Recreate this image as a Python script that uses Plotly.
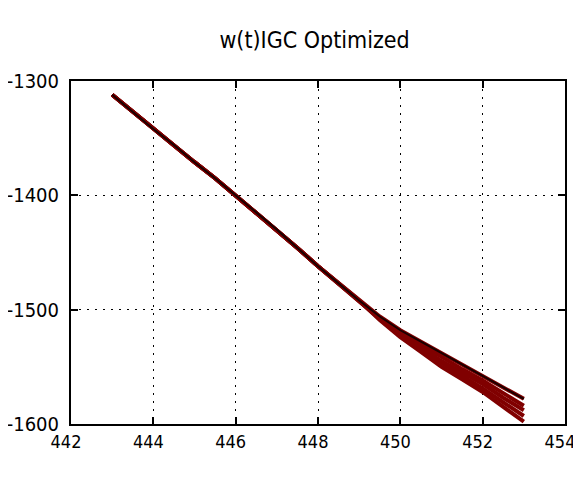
import plotly.graph_objects as go

x_vals = [443, 443.5, 444, 444.5, 445, 445.5, 446, 446.5, 447, 447.5, 448, 448.5, 449,
          449.5, 450, 450.5, 451, 451.5, 452, 452.5, 453]

# shared early part (all runs coincide up to x=449)
head = [-1312, -1327, -1342, -1356, -1371, -1385, -1400, -1415, -1430, -1446, -1462, -1477, -1492]

tail_1 = [-1506, -1518, -1528, -1538, -1548, -1558, -1568, -1578]
tail_2 = [-1507, -1520, -1531, -1542, -1552, -1562, -1573, -1584]
tail_3 = [-1508, -1521, -1533, -1545, -1555, -1565, -1577, -1588]
tail_4 = [-1508, -1523, -1535, -1547, -1558, -1569, -1581, -1593]
tail_5 = [-1509, -1524, -1537, -1550, -1561, -1572, -1585, -1598]

series = [head + tail_1, head + tail_2, head + tail_3, head + tail_4, head + tail_5]

x_ticks = [442, 444, 446, 448, 450, 452, 454]
y_ticks = [-1600, -1500, -1400, -1300]
title_text = "w(t)IGC Optimized"

fig = go.Figure()
for ys in series[::-1]:
    fig.add_trace(go.Scatter(
        x=x_vals, y=ys, mode="lines",
        line=dict(color="#800000", width=4),
        showlegend=False))
fig.add_trace(go.Scatter(
    x=x_vals, y=series[0], mode="lines",
    line=dict(color="#1a0000", width=2), showlegend=False))

font_family = "DejaVu Sans Condensed, Liberation Sans Narrow, Arial Narrow, sans-serif"

axis_common = dict(
    showline=True, linecolor="black", linewidth=2, mirror="allticks",
    ticks="inside", ticklen=7, tickcolor="black", tickwidth=1.5,
    showgrid=True, gridcolor="black", gridwidth=1, griddash="2px,6px",
    zeroline=False, automargin=False, ticklabeloverflow="allow",
)

# page body has an 8px default margin, so the figure is sized to fit 581x477
fig.update_layout(
    width=573, height=469,
    margin=dict(l=63, r=16, t=73, b=53),
    paper_bgcolor="white", plot_bgcolor="white",
    title=dict(text=title_text, x=0.535, xanchor="center", y=0.932, yanchor="middle",
               font=dict(family=font_family, size=23, color="black")),
    xaxis=dict(range=[442, 454], tickvals=x_ticks, ticktext=[str(v) for v in x_ticks],
               tickfont=dict(family=font_family, size=18, color="black"),
               ticklabelshift=-5, **axis_common),
    yaxis=dict(range=[-1600, -1300], tickvals=y_ticks, ticktext=[str(v) for v in y_ticks],
               tickfont=dict(family=font_family, size=20, color="black"),
               ticklabelstandoff=6, **axis_common),
)

fig.write_html("out.html")
